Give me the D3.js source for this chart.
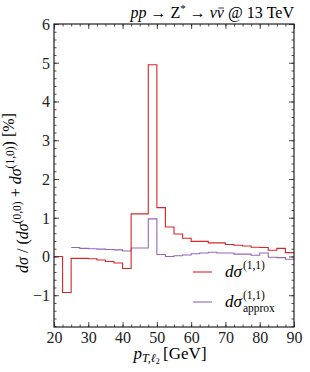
<!DOCTYPE html>
<html>
<head>
<meta charset="utf-8">
<script src="https://cdn.jsdelivr.net/npm/d3@7"></script>
<style>
  body { margin: 0; background: #fff; }
  .it { font-style: italic; }
</style>
</head>
<body>
<div id="chart"></div>
<script>
"use strict";

// bin edges (GeV), 2.5 GeV wide
const binEdges = d3.range(20, 90.01, 2.5);
// red: dsigma^(1,1) [%], one value per bin from 20
const exactVals = [0.0, -0.93, -0.05, -0.05, -0.06, -0.09, -0.13, -0.17, -0.31,
  1.10, 1.10, 4.95, 1.26, 0.76, 0.58, 0.47, 0.39, 0.39, 0.35, 0.35,
  0.31, 0.29, 0.27, 0.24, 0.23, 0.16, 0.21, 0.10];
// purple: dsigma_approx^(1,1) [%], starts at 25
const approxStart = 25;
const approxVals = [0.23, 0.21, 0.20, 0.19, 0.18, 0.17, 0.14,
  0.22, 0.22, 0.97, 0.05, 0.00, 0.02, 0.04, 0.07, 0.09, 0.11, 0.09,
  0.09, 0.06, 0.06, 0.03, 0.09, -0.02, -0.03, -0.07];
const xTicks = [20, 30, 40, 50, 60, 70, 80, 90];
const yTicks = [-1, 0, 1, 2, 3, 4, 5, 6];

const FONT = "'Liberation Serif', 'DejaVu Serif', serif";
const W = 310, H = 372;
const margin = {top: 24, right: 16, bottom: 45, left: 54};
const width = W - margin.left - margin.right,
      height = H - margin.top - margin.bottom;

const svg = d3.select("#chart").append("svg")
    .attr("width", W).attr("height", H);
const g = svg.append("g")
    .attr("transform", "translate(" + margin.left + "," + margin.top + ")");

const x = d3.scaleLinear().domain([20, 90]).range([0, width]);
const y = d3.scaleLinear().domain([-1.82, 6]).range([height, 0]);

// turn bins into step points
function steps(start, vals) {
  const pts = vals.map((v, i) => [start + 2.5 * i, v]);
  pts.push([start + 2.5 * vals.length, vals[vals.length - 1]]);
  return pts;
}
const line = d3.line()
    .x(d => x(d[0])).y(d => y(d[1]))
    .curve(d3.curveStepAfter);

const red = "#d62728", purple = "#9467bd";

g.append("path").datum(steps(approxStart, approxVals))
    .attr("fill", "none").attr("stroke", purple).attr("stroke-width", 1.1)
    .attr("d", line);
g.append("path").datum(steps(20, exactVals))
    .attr("fill", "none").attr("stroke", red).attr("stroke-width", 1.1)
    .attr("d", line);

// axes, ticks pointing inward on all sides
const xMinor = d3.range(20, 90.01, 2.5);
const yMinor = d3.range(-1.8, 6.001, 0.2).map(v => +v.toFixed(1));
const fmt = d => d < 0 ? "\u2212" + Math.abs(d) : d;

function addAxis(axisFn, scale, major, minor, transform, labels) {
  const a = g.append("g").attr("transform", transform);
  a.call(axisFn(scale).tickValues(minor).tickSize(-2.5).tickFormat(""));
  const b = g.append("g").attr("transform", transform);
  b.call(axisFn(scale).tickValues(major).tickSize(-5)
      .tickFormat(labels ? fmt : "").tickPadding(4));
  [a, b].forEach(s => {
    s.attr("font-family", null).attr("font-size", null);
    s.select(".domain").remove();
    s.selectAll("line").attr("stroke", "#222").attr("stroke-width", 0.8);
  });
  b.selectAll("text").style("font-size", "16px").attr("fill", "#222");
  return b;
}
addAxis(d3.axisBottom, x, xTicks, xMinor, "translate(0," + height + ")", true)
    .selectAll("text").attr("y", 4).attr("dy", "0.72em");
addAxis(d3.axisTop, x, xTicks, xMinor, "translate(0,0)", false);
addAxis(d3.axisLeft, y, yTicks, yMinor, "translate(0,0)", true)
    .selectAll("text").attr("x", -4).attr("dy", "0.33em");
addAxis(d3.axisRight, y, yTicks, yMinor, "translate(" + width + ",0)", false);

g.append("rect").attr("width", width).attr("height", height)
    .attr("fill", "none").attr("stroke", "#222").attr("stroke-width", 1.2);

// title
const title = svg.append("text")
    .attr("x", margin.left + width).attr("y", 18)
    .attr("text-anchor", "end").style("font-size", "16px");
title.append("tspan").attr("class", "it").text("pp");
title.append("tspan").text(" \u2192 Z");
title.append("tspan").attr("dy", -6).style("font-size", "11px").text("*");
title.append("tspan").attr("dy", 6).text(" \u2192 ");
title.append("tspan").attr("class", "it").text("\u03BD\u03BD");
title.append("tspan").text(" @ 13 TeV");

// x label
const xl = svg.append("text")
    .attr("x", margin.left + width / 2 - 4).attr("y", 359)
    .attr("text-anchor", "middle").style("font-size", "17px");
xl.append("tspan").attr("class", "it").text("p");
xl.append("tspan").attr("class", "it").attr("dy", 3).style("font-size", "12px").text("T,\u2113");
xl.append("tspan").attr("dy", 2).style("font-size", "8px").text("2");
xl.append("tspan").attr("dy", -5).text("\u2009[GeV]");

// y label
const yl = svg.append("text")
    .attr("transform", "translate(28,193) rotate(-90)")
    .attr("text-anchor", "middle").style("font-size", "16px");
function sigma(sel, sup) {
  sel.append("tspan").attr("class", "it").text("d\u03C3");
  sel.append("tspan").attr("dy", -7).style("font-size", "11.5px").text(sup);
  sel.append("tspan").attr("dy", 7).text("");
}
yl.append("tspan").attr("class", "it").text("d\u03C3");
yl.append("tspan").text(" / (");
sigma(yl, "(0,0)");
yl.append("tspan").text(" + ");
sigma(yl, "(1,0)");
yl.append("tspan").text(") [%]");

// every text in serif
svg.selectAll("text").style("font-family", FONT);

// bar over the second nu of the title
{
  const full = title.text();
  const idx = full.indexOf("\u03BD\u03BD") + 1;
  const box = title.node().getExtentOfChar(idx);
  svg.append("line")
      .attr("x1", box.x + 1.5).attr("x2", box.x + box.width)
      .attr("y1", box.y + 4).attr("y2", box.y + 4)
      .attr("stroke", "#222").attr("stroke-width", 0.9);
}

// legend
const legend = [
  {color: red, sub: null},
  {color: purple, sub: "approx"}
];
legend.forEach((d, i) => {
  const ly = 272 + i * 30;
  svg.append("line")
      .attr("x1", 193).attr("x2", 212).attr("y1", ly).attr("y2", ly)
      .attr("stroke", d.color).attr("stroke-width", 1.1);
  const t = svg.append("text").attr("x", 225).attr("y", ly + 5)
      .style("font-family", FONT).style("font-size", "17px");
  t.append("tspan").attr("class", "it").text("d\u03C3");
  const sx = 226 + t.node().getComputedTextLength();
  t.append("tspan").attr("x", sx).attr("dy", -8).style("font-size", "11.5px").text("(1,1)");
  if (d.sub) {
    t.append("tspan").attr("x", sx).attr("dy", 13).style("font-size", "11.5px").text(d.sub);
  }
});
</script>
</body>
</html>
